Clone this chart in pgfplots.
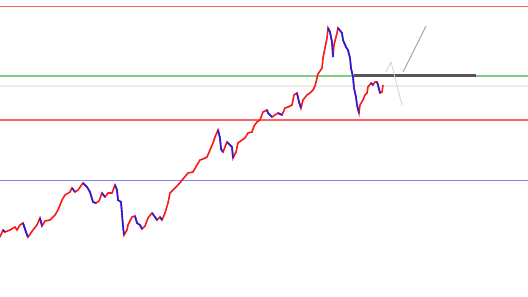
\documentclass[border=0pt]{standalone}
\usepackage{pgfplots}
\pgfplotsset{compat=1.18}
\definecolor{hred}{RGB}{250,100,100}
\definecolor{hgreen}{RGB}{130,205,130}
\definecolor{hblue}{RGB}{130,130,255}
\definecolor{hgray}{RGB}{238,238,238}
\definecolor{sred}{RGB}{250,25,25}
\definecolor{sblue}{RGB}{30,30,240}
\definecolor{dark}{RGB}{85,85,85}
\begin{document}
\begin{tikzpicture}
\begin{axis}[
  scale only axis, width=528bp, height=297bp,
  xmin=0, xmax=528, ymin=0, ymax=297, y dir=reverse,
  axis lines=none, axis background/.style={fill=white},
  unbounded coords=jump, clip=true
]
% horizontal levels
\addplot[hred, line width=1.6pt] coordinates {(0,6.5) (528,6.5)};
\addplot[hgray, line width=1.2pt] coordinates {(0,86) (528,86)};
\addplot[hgreen, line width=1.6pt] coordinates {(0,76) (528,76)};
\addplot[hred, line width=1.6pt] coordinates {(0,120) (528,120)};
\addplot[hblue, line width=1.6pt] coordinates {(0,180.5) (528,180.5)};
% price line (red)
\addplot[sred, line width=1.6pt] coordinates {
(0,237) (3,230) (5,232) (10,230) (15,227) (17,230) (20,225) (23,223) (27,235) (28,237)
(33,230) (37,225) (40,218) (42,226) (45,221) (50,220) (55,215) (58,210) (62,200) (65,195)
(70,192) (72,188) (75,192) (78,190) (83,183) (87,187) (90,192) (93,202) (96,203) (99,201)
(102,193) (105,197) (108,193) (112,193) (115,185) (117,190) (118,200) (121,202) (123,226) (124,235)
(127,230) (128,225) (132,217) (135,216) (137,223) (140,225) (142,229) (145,226) (148,218) (152,213)
(155,217) (157,220) (160,217) (162,220) (165,213) (168,203) (170,193) (173,190) (178,185) (183,179)
(188,173) (193,172) (197,165) (200,160) (203,159) (207,157) (210,150) (213,143) (215,137) (218,130)
(220,138) (221,149) (223,152) (225,147) (227,142) (228,143) (232,147) (233,158) (236,152) (238,143)
(242,140) (245,138) (248,133) (252,132) (254,126) (257,122) (260,120) (263,112) (267,110) (268,113)
(272,117) (275,115) (278,113) (282,115) (285,108) (288,107) (292,105) (294,95) (297,93) (299,102)
(301,108) (303,100) (307,95) (310,93) (313,90) (315,86) (317,78) (318,74) (322,68) (323,58)
(325,48) (327,38) (328,28) (330,32) (332,42) (333,57) (334,45) (337,33) (338,28) (342,33)
(343,40) (346,47) (348,50) (350,58) (351,68) (353,77) (354,88) (356,97) (357,105) (359,113)
(360,105) (363,100) (365,95) (367,93) (368,87) (371,83) (373,85) (375,82) (377,82) (378,85)
(380,93) (382,92) (383,85)
};
% falling stretches (blue)
\addplot[sblue, line width=1.6pt] coordinates {
(3,230) (5,232) (nan,nan)
(23,223) (27,235) (28,237) (nan,nan)
(40,218) (42,226) (nan,nan)
(72,188) (75,192) (nan,nan)
(83,183) (87,187) (90,192) (93,202) (96,203) (nan,nan)
(102,193) (105,197) (nan,nan)
(115,185) (117,190) (118,200) (121,202) (123,226) (124,235) (nan,nan)
(135,216) (137,223) (140,225) (142,229) (nan,nan)
(152,213) (155,217) (157,220) (nan,nan)
(160,217) (162,220) (nan,nan)
(218,130) (220,138) (221,149) (223,152) (nan,nan)
(227,142) (228,143) (232,147) (233,158) (nan,nan)
(267,110) (268,113) (272,117) (nan,nan)
(278,113) (282,115) (nan,nan)
(297,93) (299,102) (301,108) (nan,nan)
(328,28) (330,32) (332,42) (333,57) (nan,nan)
(338,28) (342,33) (343,40) (346,47) (348,50) (350,58) (351,68) (353,77) (354,88) (356,97) (357,105) (359,113) (nan,nan)
(371,83) (373,85) (nan,nan)
(377,82) (378,85) (380,93)
};
% black level
\addplot[dark, line width=2.4pt] coordinates {(354,75.5) (476,75.5)};
% gray projection lines
\addplot[gray!35, line width=0.8pt] coordinates {(386,72) (391,62) (402,105)};
\addplot[gray!75, line width=0.9pt] coordinates {(403,72) (426,26)};
\end{axis}
\end{tikzpicture}
\end{document}
